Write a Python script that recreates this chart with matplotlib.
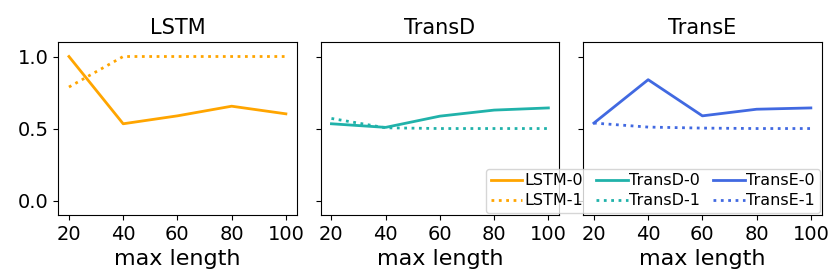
import numpy as np
import matplotlib
matplotlib.use('Agg')
import matplotlib.pyplot as plt

max_len = [20, 40, 60, 80, 100]

lstm_0 = [1.0, 0.533, 0.588, 0.655, 0.602]
lstm_1 = [0.788, 1.0, 1.0, 1.0, 1.0]
transd_0 = [0.533, 0.508, 0.586, 0.628, 0.643]
transd_1 = [0.570, 0.505, 0.5, 0.5, 0.5]
transe_0 = [0.538, 0.839, 0.588, 0.634, 0.643]
transe_1 = [0.538, 0.510, 0.503, 0.5, 0.5]

models = ['LSTM', 'TransD', 'TransE']
colors = ['orange', 'lightseagreen', 'royalblue']
series = [(lstm_0, lstm_1), (transd_0, transd_1), (transe_0, transe_1)]

fig, axes = plt.subplots(1, 3, figsize=(8.3, 2.77), dpi=100, sharey=True)
fig.subplots_adjust(left=0.07, right=0.99, top=0.848, bottom=0.224, wspace=0.1)

handles = []
labels = []
for ax, name, c, (s0, s1) in zip(axes, models, colors, series):
    l0, = ax.plot(max_len, s0, color=c, lw=2, linestyle='-')
    l1, = ax.plot(max_len, s1, color=c, lw=2, linestyle=':')
    handles += [l0, l1]
    labels += [name + '-0', name + '-1']
    ax.set_title(name, fontsize=15)
    ax.set_xlabel('max length', fontsize=16)
    ax.set_xticks(max_len)
    ax.tick_params(labelsize=14)
    ax.set_ylim(-0.1, 1.1)
axes[0].set_yticks([0.0, 0.5, 1.0])

fig.legend(handles, labels, ncol=3, loc='lower right',
           bbox_to_anchor=(820 / 830, 1 - 213 / 277), borderaxespad=0,
           fontsize=11.5, handletextpad=0.1, columnspacing=0.8,
           handlelength=2.0, borderpad=0.3, labelspacing=0.3)

fig.savefig('out.png')
